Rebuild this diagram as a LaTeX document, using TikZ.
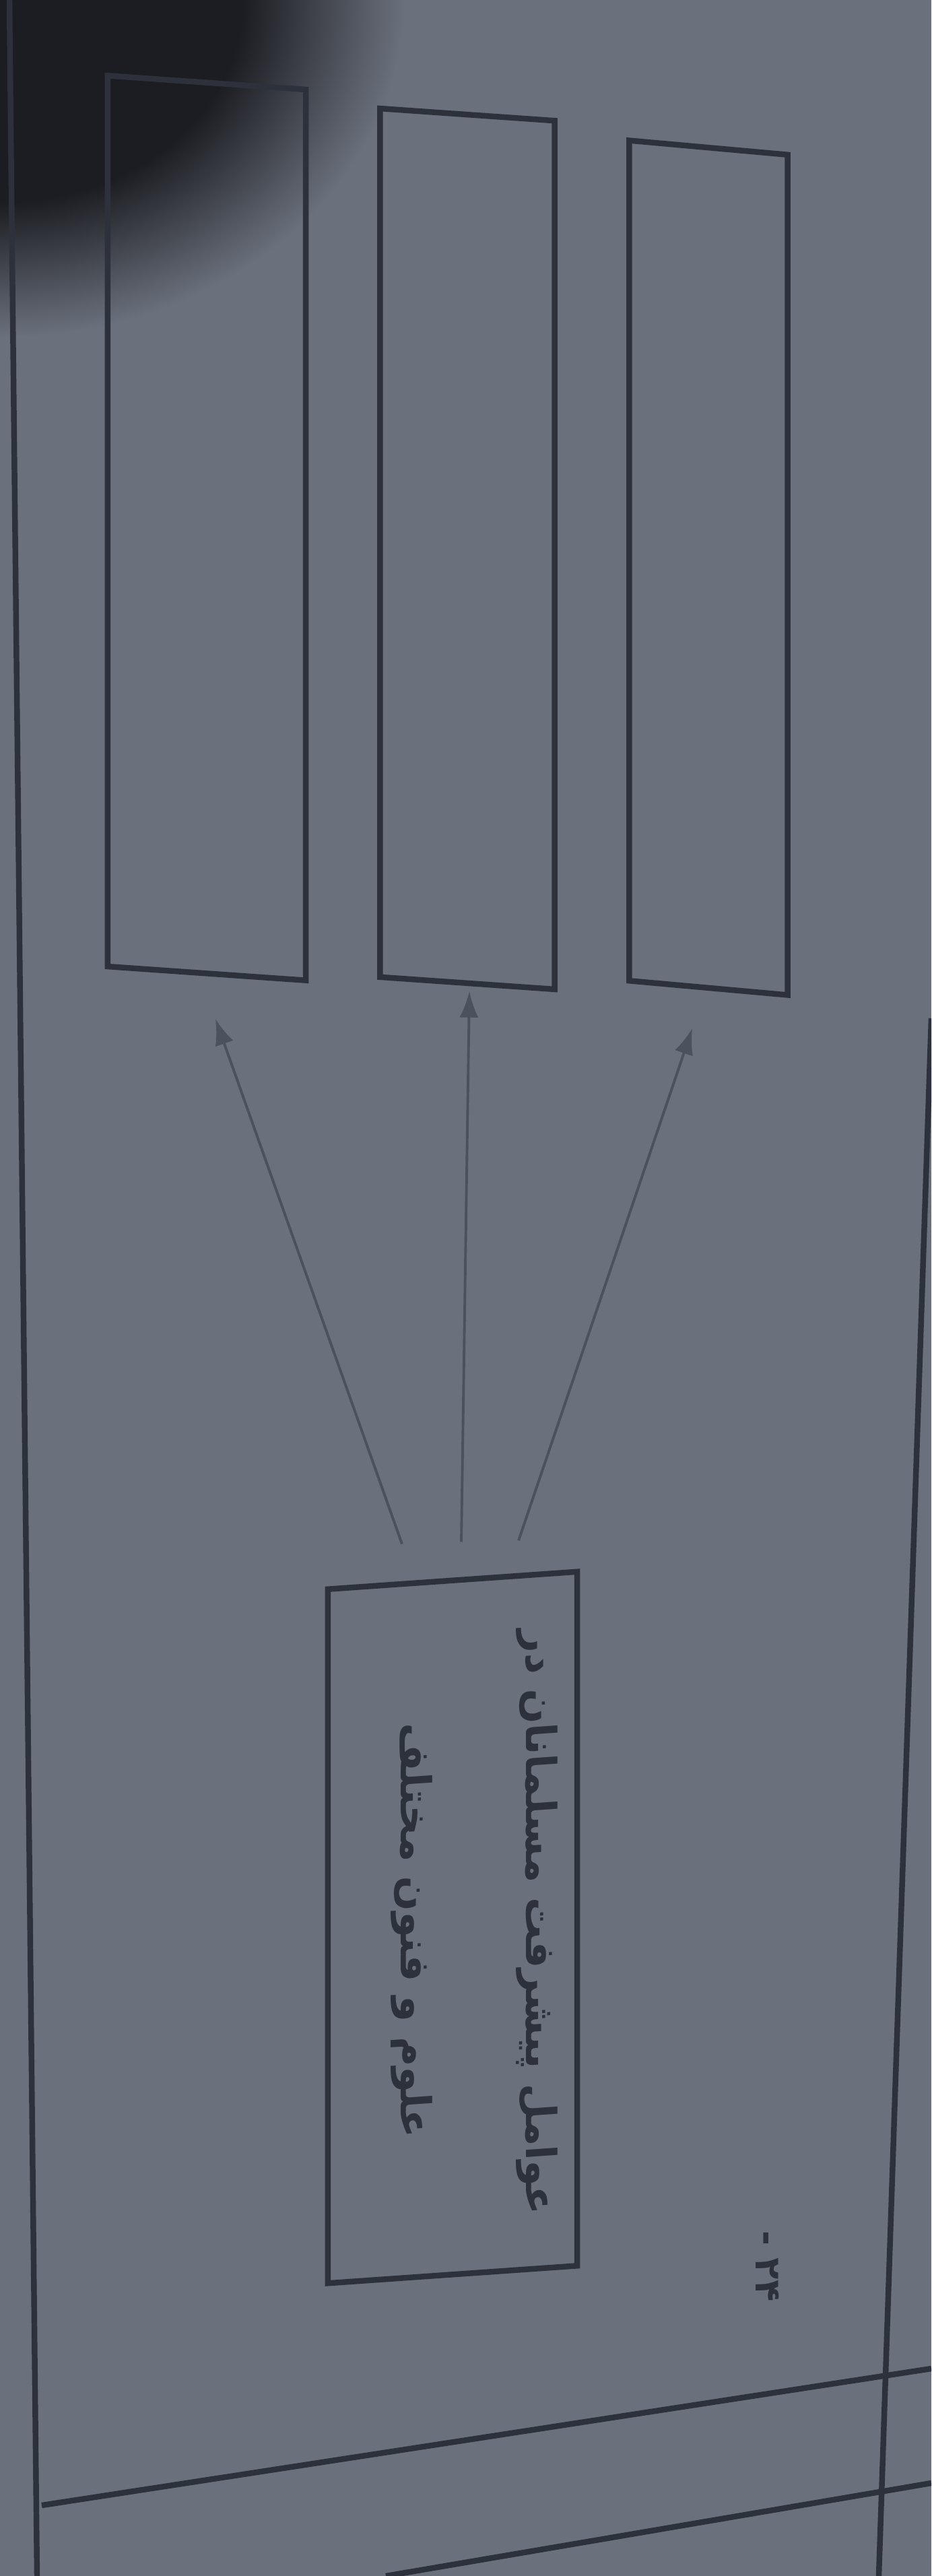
\documentclass[tikz,border=0pt]{standalone}
\usepackage{fontspec}
\usetikzlibrary{arrows.meta}
\TeXXeTstate=1
\newfontfamily\farsifont[Script=Arabic]{DejaVu Sans}
\definecolor{paper}{HTML}{6A707C}
\definecolor{ink}{HTML}{2C313B}
\definecolor{pencil}{HTML}{4B515D}
\definecolor{shadow}{HTML}{1C1D22}
\pgfdeclareradialshading{cornershade}{\pgfpoint{0bp}{0bp}}{color(0bp)=(shadow); color(15bp)=(shadow); color(25bp)=(paper); color(50bp)=(paper)}
\tikzset{
  box/.style={draw=ink, line width=2.4pt, inner sep=0pt},
  pointer/.style={draw=pencil, line width=1.1pt, -{Latex[length=11pt,width=8pt]}},
  rule/.style={draw=ink, line width=2.4pt},
}

\begin{document}
\begin{tikzpicture}
        \def\x{0.01}
        \def\y{-0.01}
        \useasboundingbox (0,0) rectangle (1383*\x, 3825*\y);
        \clip (0,0) rectangle (1383*\x, 3825*\y);
        \fill[paper] (0,0) rectangle (1383*\x, 3825*\y);
        \shade[shading=cornershade] (0,0) ellipse (6.0 and 5.0);
        % page rules
        \draw[rule] (14*\x, 0) -- (55*\x, 3825*\y);
        \draw[rule] (1383*\x, 1512*\y) -- (1305*\x, 3825*\y);
        \draw[rule] (62*\x, 3720*\y) -- (1383*\x, 3517*\y);
        \draw[rule] (573*\x, 3825*\y) -- (1383*\x, 3687*\y);
        % empty answer boxes
        \node[box, minimum width=2.94cm, minimum height=13.22cm, yslant=-0.07] (A0_0) at (307*\x, 784*\y) {};
        \node[box, minimum width=2.59cm, minimum height=12.89cm, yslant=-0.07] (A0_1) at (694*\x, 815*\y) {};
        \node[box, minimum width=2.35cm, minimum height=12.47cm, yslant=-0.09] (A0_2) at (1052*\x, 843*\y) {};
        \node[box, minimum width=3.70cm, minimum height=10.30cm, yslant=0.07, text=ink,
              font=\farsifont\bfseries\fontsize{17.5}{53}\selectfont] (A1_1) at (672*\x, 2862*\y)
              {\rotatebox{-90}{\raisebox{11pt}[0pt][0pt]{\begin{tabular}{@{}c@{}}\beginR عوامل پیشرفت مسلمانان در\endR\\ \beginR علوم و فنون مختلف\endR\end{tabular}}}};
        \node[rotate=-90, text=ink, font=\farsifont\bfseries\fontsize{15}{18}\selectfont] (N) at (1140*\x, 3365*\y) {- ۲۴};
        \coordinate (T0_0) at (320*\x, 1513*\y);
        \coordinate (T0_1) at (697*\x, 1472*\y);
        \coordinate (T0_2) at (1028*\x, 1527*\y);
        \path ([xshift=-0.75cm, yshift=0.5cm]A1_1.north) edge [pointer] (T0_0);
        \path ([xshift=0.13cm, yshift=0.53cm]A1_1.north) edge [pointer] (T0_1);
        \path ([xshift=0.98cm, yshift=0.55cm]A1_1.north) edge [pointer] (T0_2);
      \end{tikzpicture}
\end{document}
